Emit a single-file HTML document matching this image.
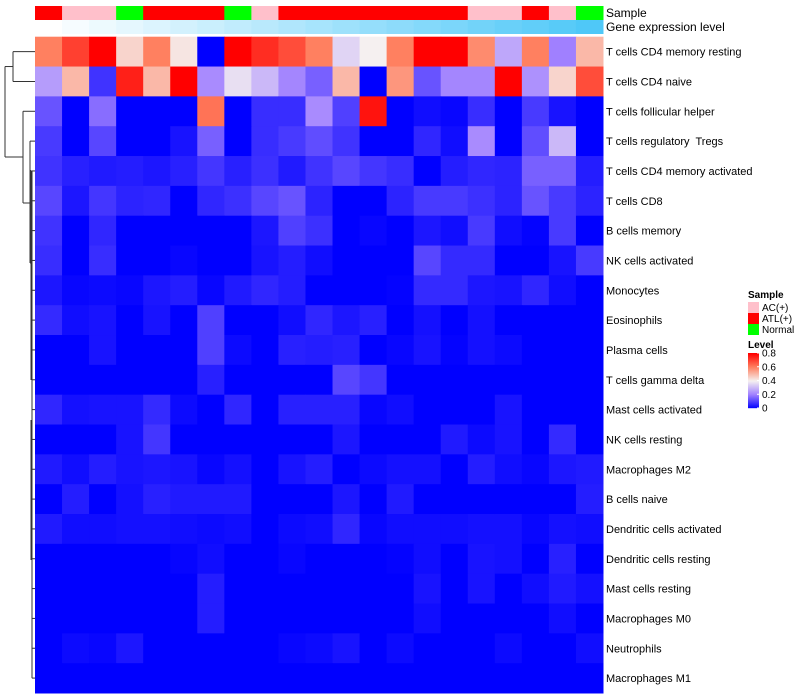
<!DOCTYPE html>
<html><head><meta charset="utf-8"><style>
body{margin:0;background:#fff;}
svg{display:block;font-family:"Liberation Sans",sans-serif;}
text{white-space:pre;}
</style></head><body>
<svg id="chart" width="800" height="700"></svg>
<script>
const cellTypes=["T cells CD4 memory resting","T cells CD4 naive","T cells follicular helper","T cells regulatory  Tregs","T cells CD4 memory activated","T cells CD8","B cells memory","NK cells activated","Monocytes","Eosinophils","Plasma cells","T cells gamma delta","Mast cells activated","NK cells resting","Macrophages M2","B cells naive","Dendritic cells activated","Dendritic cells resting","Mast cells resting","Macrophages M0","Neutrophils","Macrophages M1"];
const sampleGroups=["ATL","AC","AC","Normal","ATL","ATL","ATL","Normal","AC","ATL","ATL","ATL","ATL","ATL","ATL","ATL","AC","AC","ATL","AC","Normal"];
const geneLevel=[0,0.05,0.1,0.15,0.2,0.25,0.3,0.35,0.4,0.45,0.5,0.55,0.6,0.65,0.7,0.75,0.8,0.85,0.9,0.95,1];
const r1=[0.6,0.7,0.8,0.45,0.6,0.42,0,0.8,0.73,0.68,0.6,0.35,0.4,0.6,0.8,0.8,0.58,0.27,0.6,0.2,0.5];
const r2=[0.25,0.5,0.08,0.75,0.5,0.8,0.22,0.37,0.3,0.21,0.15,0.5,0,0.56,0.13,0.21,0.21,0.8,0.23,0.45,0.68];
const r3=[0.13,0,0.17,0,0,0,0.62,0,0.07,0.07,0.22,0.1,0.77,0,0.02,0.01,0.07,0,0.09,0.03,0];
const r4=[0.09,0,0.11,0,0,0.03,0.15,0,0.07,0.09,0.12,0.08,0,0,0.06,0.02,0.22,0,0.12,0.3,0];
const r5=[0.08,0.05,0.04,0.045,0.035,0.05,0.085,0.05,0.075,0.04,0.08,0.11,0.085,0.07,0,0.045,0.06,0.055,0.15,0.15,0.045];
const r6=[0.11,0.035,0.085,0.055,0.06,0,0.06,0.075,0.11,0.13,0.055,0,0,0.055,0.09,0.09,0.075,0.055,0.13,0.09,0.055];
const r7=[0.08,0,0.06,0,0,0,0,0,0.035,0.1,0.075,0,0.01,0,0.035,0.02,0.09,0.02,0.005,0.09,0];
const r8=[0.07,0,0.07,0,0,0.01,0,0,0.03,0.045,0.02,0,0,0,0.11,0.065,0.065,0,0,0.03,0.09];
const r9=[0.035,0.01,0.015,0.01,0.035,0.045,0.01,0.04,0.06,0.045,0,0,0,0.005,0.065,0.065,0.035,0.03,0.06,0.02,0];
const r10=[0.065,0.02,0.03,0,0.03,0,0.1,0,0,0.02,0.06,0.035,0.05,0,0.025,0,0.025,0,0,0,0];
const r11=[0,0,0.03,0,0,0,0.1,0.015,0,0.05,0.045,0.05,0,0.01,0.03,0.005,0.025,0.015,0,0,0];
const r12=[0,0,0,0,0,0,0.05,0,0,0,0,0.11,0.085,0,0,0,0,0,0,0,0];
const r13=[0.06,0.025,0.03,0.03,0.065,0.015,0,0.06,0,0.05,0.05,0.05,0.01,0.02,0,0,0,0.03,0,0,0];
const r14=[0,0,0,0.03,0.085,0,0,0,0,0,0,0.035,0,0,0,0.04,0.015,0.03,0,0.065,0];
const r15=[0.04,0.02,0.045,0.03,0.035,0.03,0.01,0.025,0,0.03,0.045,0,0.015,0.025,0.025,0,0.045,0.02,0.01,0.035,0.04];
const r16=[0,0.045,0,0.025,0.05,0.04,0.04,0.04,0,0,0,0.035,0,0.04,0,0,0,0,0,0,0.045];
const r17=[0.04,0.02,0.02,0.025,0.025,0.02,0.015,0.02,0,0.015,0.02,0.06,0.01,0.02,0.02,0.02,0.025,0.025,0.01,0.025,0.02];
const r18=[0,0,0,0,0,0.008,0.02,0,0,0.01,0,0,0,0.005,0.02,0,0.03,0.025,0,0.05,0];
const r19=[0,0,0,0,0,0,0.045,0,0,0,0,0,0,0,0.03,0,0.03,0,0.02,0.04,0.025];
const r20=[0,0,0,0,0,0,0.045,0,0,0,0,0,0,0,0.02,0,0,0,0,0.02,0];
const r21=[0,0.015,0.01,0.035,0,0,0,0,0,0.01,0.015,0.03,0,0.015,0,0,0,0.015,0,0,0.02];
const r22=[0,0,0,0,0,0,0,0,0,0,0,0,0,0,0,0,0,0,0,0,0];
const values=[r1,r2,r3,r4,r5,r6,r7,r8,r9,r10,r11,r12,r13,r14,r15,r16,r17,r18,r19,r20,r21,r22];
const legendTicks=["0.8","0.6","0.4","0.2","0"];

const NS="http://www.w3.org/2000/svg";
const svg=document.getElementById('chart');
function el(t,a,p){const e=document.createElementNS(NS,t);for(const k in a)e.setAttribute(k,a[k]);(p||svg).appendChild(e);return e;}
const X0=35,X1=603,Y0=36.7,Y1=693;
const nC=sampleGroups.length,nR=cellTypes.length;
const cw=(X1-X0)/nC,rh=(Y1-Y0)/nR;
const xS=i=>X0+i*cw, yS=j=>Y0+j*rh;
const stops=[[0,[0,0,255]],[0.2,[160,128,255]],[0.4,[245,240,240]],[0.6,[255,128,96]],[0.8,[255,0,0]]];
function col(v){v=Math.max(0,Math.min(0.8,v));for(let i=0;i<stops.length-1;i++){const[a,ca]=stops[i],[b,cb]=stops[i+1];if(v<=b){const t=(v-a)/(b-a);return 'rgb('+ca.map((c,k)=>Math.round(c+(cb[k]-c)*t)).join(',')+')';}}return 'rgb(255,0,0)';}
const grpCol={AC:"#ffc0cb",ATL:"#ff0000",Normal:"#00ff00"};
for(let i=0;i<nC;i++){
 const s=el('rect',{x:xS(i),y:6,width:cw+0.5,height:14,fill:grpCol[sampleGroups[i]]});
 
 
 const g=geneLevel[i];
 const gc='rgb('+Math.round(255+(79-255)*g)+','+Math.round(255+(200-255)*g)+','+Math.round(255+(248-255)*g)+')';
 const r=el('rect',{x:xS(i),y:20,width:cw+0.5,height:14,fill:gc});
 
 
}
let t=el('text',{x:606,y:17,'font-size':12,fill:'#000'});t.textContent='Sample';

t=el('text',{x:606,y:31,'font-size':12,fill:'#000'});t.textContent='Gene expression level';

for(let j=0;j<nR;j++){for(let i=0;i<nC;i++){
 const c=el('rect',{x:xS(i),y:yS(j),width:cw+0.5,height:rh+0.5,fill:col(values[j][i])});
 
 
}
 const l=el('text',{x:606,y:yS(j)+rh/2+4,'font-size':11,fill:'#000'});l.textContent=cellTypes[j];
 
 
}
// dendrogram (approximate)
const yc=j=>yS(j)+rh/2;
const dg=el('g',{stroke:'#333','stroke-width':1,fill:'none'});

function seg(x1,y1,x2,y2){el('line',{x1,y1,x2,y2},dg);}
seg(13,yc(0),35,yc(0));seg(13,yc(1),35,yc(1));seg(13,yc(0),13,yc(1));
const ym=(yc(0)+yc(1))/2;
seg(5,ym,13,ym);
const yb=157;
seg(5,ym,5,yb);seg(5,yb,23,yb);
const yl=203;
seg(23,yc(2),35,yc(2));seg(23,yc(2),23,yl);seg(23,yl,30,yl);
const yk=263;
seg(30,yc(3),35,yc(3));seg(30,yc(3),30,yk);seg(30,yk,32,yk);
seg(32,yc(4),32,yc(21));
for(let j=4;j<nR;j++)seg(32,yc(j),35,yc(j));
seg(31,170,31,380);seg(31,420,31,560);
// legend
const lg=el('g',{});
t=el('text',{x:748,y:298,'font-size':10,'font-weight':'bold'},lg);t.textContent='Sample';
[["AC(+)","AC"],["ATL(+)","ATL"],["Normal","Normal"]].forEach((d,k)=>{
 const r=el('rect',{x:748,y:302+k*11,width:11,height:11,fill:grpCol[d[1]]},lg);
 
 const tx=el('text',{x:762,y:311+k*11,'font-size':10},lg);tx.textContent=d[0];
 
});
t=el('text',{x:748,y:348,'font-size':10,'font-weight':'bold'},lg);t.textContent='Level';
const LY0=353,LY1=408;
for(let k=0;k<55;k++){const v=0.8*(1-k/55);el('rect',{x:748,y:LY0+k,width:11,height:1.2,fill:col(v)},lg);}
legendTicks.forEach((s,k)=>{const y=LY0+(LY1-LY0)*k/(legendTicks.length-1);
 el('line',{x1:757,x2:759,y1:y,y2:y,stroke:'#fff'},lg);
 const tx=el('text',{x:762,y:y+3.5,'font-size':10},lg);tx.textContent=s;
 });
</script>
</body></html>
